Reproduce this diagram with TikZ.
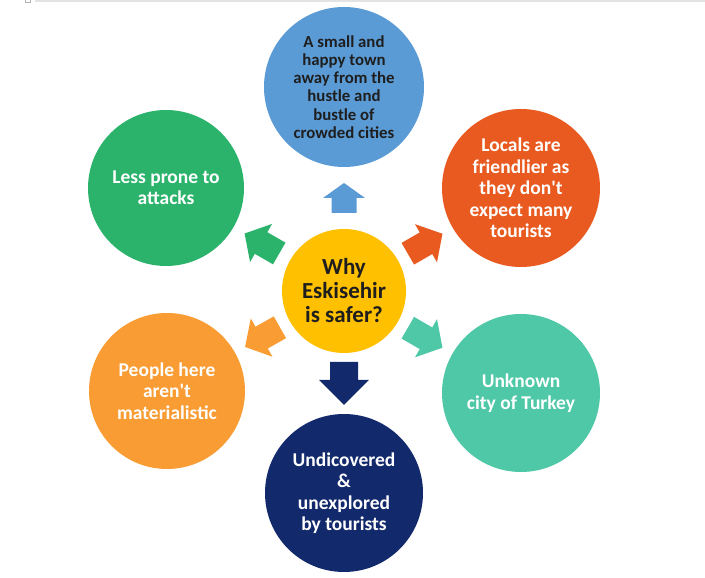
\documentclass[tikz,border=0pt]{standalone}
\usepackage{fontspec}
\setmainfont{Carlito}
\usetikzlibrary{calc}
\definecolor{cBlue}{HTML}{5B9BD5}
\definecolor{cGreen}{HTML}{2BB36B}
\definecolor{cRed}{HTML}{E85A1F}
\definecolor{cTeal}{HTML}{4FC8A7}
\definecolor{cOrange}{HTML}{F89C33}
\definecolor{cNavy}{HTML}{12296B}
\definecolor{cYellow}{HTML}{FFC000}
\definecolor{cDark}{HTML}{1E1E1E}
\begin{document}
\begin{tikzpicture}[x=1pt,y=1pt,
  bubble/.style={circle, inner sep=0pt, align=center, text=white,
    font=\bfseries\fontsize{19.5}{21.5}\selectfont},
  pics/blk/.style n args={5}{code={
    \fill[#5] (-#1/2,-#2) -- (#1/2-#4,-#2) -- (#1/2-#4,-#3) -- (#1/2,0)
      -- (#1/2-#4,#3) -- (#1/2-#4,#2) -- (-#1/2,#2) -- cycle;}}
]
\useasboundingbox (0,0) rectangle (705,578);
\fill[white] (0,0) rectangle (705,578);
\fill[gray!22] (35,575.5) rectangle (705,578);
\draw[gray!60, line width=0.6pt] (25.5,575.5) rectangle (30,579);

\node[bubble, fill=cYellow, minimum size=124pt, text=cDark,
  font=\bfseries\fontsize{23}{24}\selectfont] (c) at (344,287) {Why\\Eskisehir\\is safer?};

\node[bubble, fill=cBlue, minimum size=160pt, text=cDark,
  font=\bfseries\fontsize{16.8}{18.2}\selectfont] (t) at (344,491)
  {A small and\\happy town\\away from the\\hustle and\\bustle of\\crowded cities};
\node[bubble, fill=cRed, minimum size=158pt] (ne) at (521,390)
  {Locals are\\friendlier as\\they don\textquotesingle t\\expect many\\tourists};
\node[bubble, fill=cTeal, minimum size=158pt] (se) at (521,185)
  {Unknown\\city of Turkey};
\node[bubble, fill=cNavy, minimum size=158pt] (s) at (344,85)
  {Undicovered\\\&\\unexplored\\by tourists};
\node[bubble, fill=cOrange, minimum size=156pt] (sw) at (167,187)
  {People here\\aren\textquotesingle t\\materialistic};
\node[bubble, fill=cGreen, minimum size=156pt] (nw) at (166,390)
  {Less prone to\\attacks};

\path (c.90) -- (t.270) coordinate[midway] (a-t);
\path (c.270) -- (s.90) coordinate[midway] (a-s);
\path (c.30) -- (ne.210) coordinate[midway] (a-ne);
\path (c.-30) -- (se.150) coordinate[midway] (a-se);
\path (c.209.5) -- (sw.29.5) coordinate[midway] (a-sw);
\path (c.150) -- (nw.-30) coordinate[midway] (a-nw);

\pic[rotate=90] at (a-t) {blk={30}{12.5}{21}{15}{cBlue}};
\pic[rotate=270] at (a-s) {blk={43}{14}{25}{25}{cNavy}};
\pic[rotate=30] at (a-ne) {blk={40}{12.5}{22}{19}{cRed}};
\pic[rotate=-30] at (a-se) {blk={40}{12.5}{22}{19}{cTeal}};
\pic[rotate=209.5] at (a-sw) {blk={40}{12.5}{22}{19}{cOrange}};
\pic[rotate=150] at (a-nw) {blk={40}{12.5}{22}{19}{cGreen}};
\end{tikzpicture}
\end{document}
